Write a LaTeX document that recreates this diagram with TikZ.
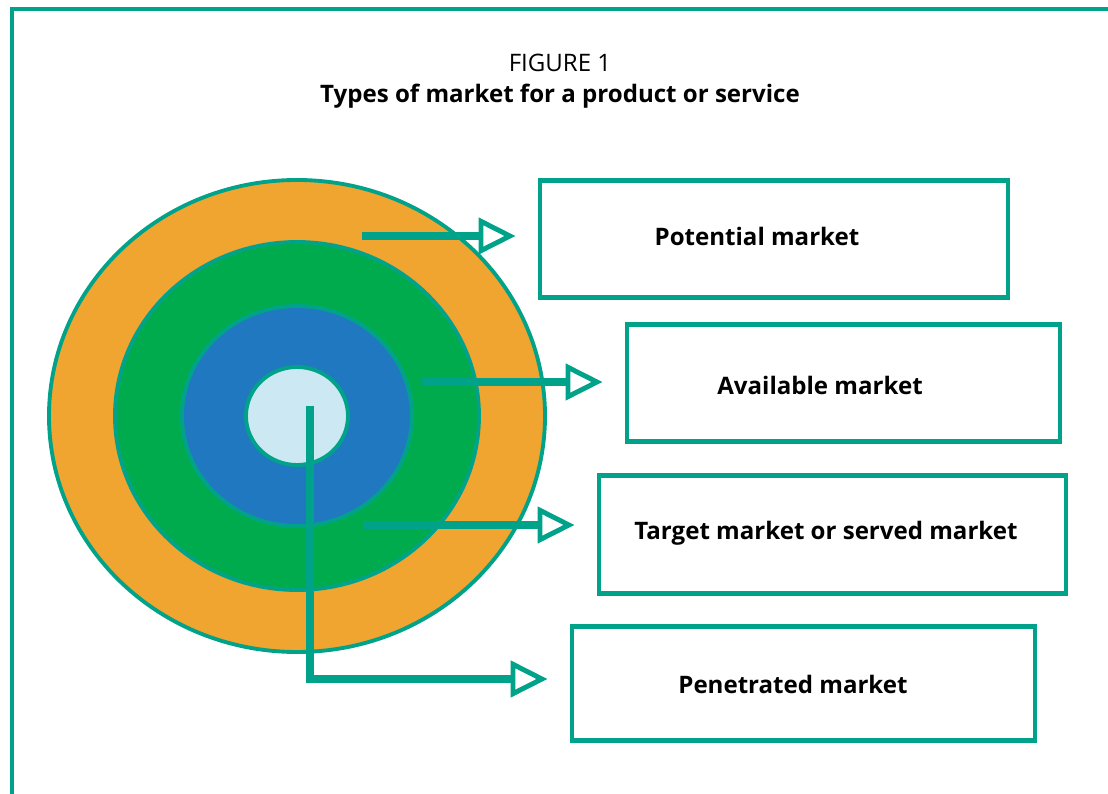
\documentclass[tikz,border=0pt]{standalone}
\usepackage{fontspec}
\setmainfont{Open Sans}
\usepackage{tikz}
\usetikzlibrary{arrows.meta, calc}
\definecolor{rim-color}{HTML}{00A389}
\definecolor{potential-color}{HTML}{F0A530}
\definecolor{available-color}{HTML}{00AB4E}
\definecolor{target-color}{HTML}{2079C0}
\definecolor{penetrated-color}{HTML}{CCE8F2}
\newcommand{\figfont}{\fontsize{13.7}{16}\selectfont}
\tikzset{
    ring/.style = {draw=rim-color, line width=2.2pt},
    market-box/.style = {
        draw=rim-color, line width=2.8pt, fill=white
    },
    market-text/.style = {font=\figfont\bfseries},
    pointer/.style = {
        draw=rim-color, line width=5pt, shorten >=4.4mm,
        -{Triangle[open, length=7.4mm, width=7.2mm, line width=2.8pt]}
    },
}

\begin{document}
\begin{tikzpicture}[x=0.2mm, y=-0.2mm]

\useasboundingbox (0,0) rectangle (1108,794);
\draw[rim-color, line width=2pt] (12,794) -- (12,9) -- (1108,9);

\node (fig-no) at (560,63) {\figfont FIGURE 1};
\node (fig-title) at (560,96) {\figfont\bfseries Types of market for a product or service};

% nested markets, largest first
\coordinate (center) at (297,416);
\fill[potential-color,ring]  (center) ellipse [x radius=49.6mm, y radius=47.2mm];
\fill[available-color,ring]  (center) ellipse [x radius=36.4mm, y radius=34.8mm];
\fill[target-color,ring]     (center) ellipse [x radius=23mm,   y radius=22mm];
\fill[penetrated-color,ring] (center) ellipse [x radius=10.2mm, y radius=9.8mm];

% boxes; the labels sit a little left of centre
\node[market-box, minimum width=93.6mm, minimum height=23.4mm] (potential)  at (774,239) {};
\node[market-box, minimum width=86.6mm, minimum height=23.4mm] (available)  at (843.5,383) {};
\node[market-box, minimum width=93.4mm, minimum height=23.6mm] (target)     at (832.5,534.5) {};
\node[market-box, minimum width=92.6mm, minimum height=22.8mm] (penetrated) at (803.5,683.5) {};

\node[market-text] (potential-text)  at (757,236) {Potential market};
\node[market-text] (available-text)  at (820,385) {Available market};
\node[market-text] (target-text)     at (826,533) {Target market or served market};
\node[market-text] (penetrated-text) at (793,684) {Penetrated market};

\coordinate (p1) at (362,236);
\coordinate (p2) at (422,382);
\coordinate (p3) at (363,525);
\coordinate (p4) at (310,406);
\coordinate (p4-turn) at (310,679);

\draw[pointer] (p1) -- (p1 -| potential.west);
\draw[pointer] (p2) -- (p2 -| available.west);
\draw[pointer] (p3) -- (p3 -| target.west);
\draw[pointer] (p4) -- (p4-turn) -- (p4-turn -| penetrated.west);

\end{tikzpicture}
\end{document}
